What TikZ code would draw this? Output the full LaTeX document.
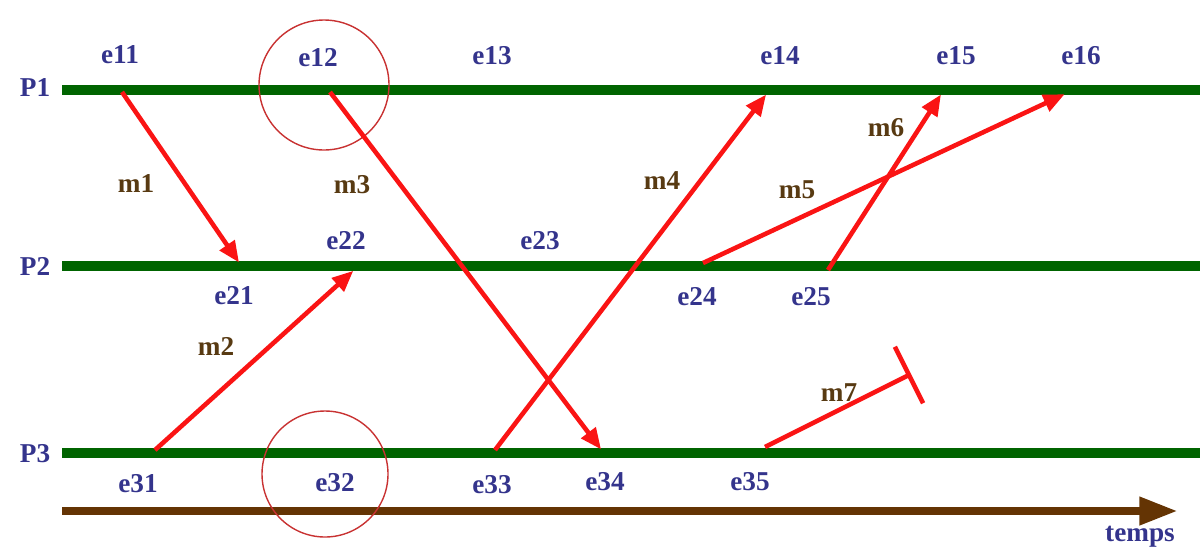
\documentclass[tikz,border=0pt]{standalone}
\usepackage{fontspec}
\setmainfont{Liberation Serif}
\usetikzlibrary{
    arrows.meta,
    positioning,
    calc
}
\definecolor{ProcGreen}{RGB}{0,100,0}
\definecolor{LabelBlue}{RGB}{52,52,140}
\definecolor{MsgBrown}{RGB}{88,58,18}
\definecolor{TimeBrown}{RGB}{100,52,4}
\definecolor{MsgRed}{RGB}{250,20,20}
\definecolor{CutRed}{RGB}{200,50,50}

\begin{document}
\begin{tikzpicture}[
    x=0.02cm,
    y=-0.02cm,
    >={Triangle[length=12pt,width=10pt]},
    process/.style={line width=6.2pt, ProcGreen},
    message/.style={->, line width=2.6pt, MsgRed, shorten >=-1pt},
    event/.style={text=LabelBlue, font=\fontsize{15.5}{17}\selectfont\bfseries, inner sep=1pt},
    msglabel/.style={text=MsgBrown, font=\fontsize{15.5}{17}\selectfont\bfseries, inner sep=1pt},
    cut/.style={draw=CutRed, line width=0.8pt}
]
\useasboundingbox (0,0) rectangle (1200,549);

% processes
\node[event] (p1) at (35,88) {P1};
\node[event] (p2) at (35,266) {P2};
\node[event] (p3) at (35,454) {P3};
\coordinate (p1start) at (62,90);
\coordinate (p1end) at (1200,90);
\coordinate (p2start) at (62,266);
\coordinate (p2end) at (1200,266);
\coordinate (p3start) at (62,453);
\coordinate (p3end) at (1200,453);
\draw[process] (p1start) -- (p1end);
\draw[process] (p2start) -- (p2end);
\draw[process] (p3start) -- (p3end);

% time axis
\coordinate (tstart) at (62,511);
\coordinate (tend) at (1178,511);
\draw[-{Triangle[length=22pt,width=15pt]}, line width=5pt, TimeBrown] (tstart) -- (tend);
\node[event] (temps) at (1140,537) {temps};

% events on P1
\coordinate (e11) at (122,92);
\coordinate (e12) at (330,92);
\coordinate (e14) at (765,96);
\coordinate (e15) at (940,96);
\coordinate (e16) at (1063,95);
\node[event] (l11) at (120,55) {e11};
\node[event] (l12) at (318,58) {e12};
\node[event] (l13) at (492,56) {e13};
\node[event] (l14) at (780,56) {e14};
\node[event] (l15) at (956,56) {e15};
\node[event] (l16) at (1081,56) {e16};

% events on P2
\coordinate (e21) at (238,261);
\coordinate (e22) at (352,272);
\coordinate (e24) at (703,263);
\coordinate (e25) at (828,270);
\node[event] (l21) at (234,296) {e21};
\node[event] (l22) at (346,241) {e22};
\node[event] (l23) at (540,241) {e23};
\node[event] (l24) at (697,297) {e24};
\node[event] (l25) at (811,297) {e25};

% events on P3
\coordinate (e31) at (155,450);
\coordinate (e33) at (495,450);
\coordinate (e34) at (600,448);
\coordinate (e35) at (765,447);
\coordinate (lost) at (911,374);
\node[event] (l31) at (138,484) {e31};
\node[event] (l32) at (335,483) {e32};
\node[event] (l33) at (492,485) {e33};
\node[event] (l34) at (605,482) {e34};
\node[event] (l35) at (750,482) {e35};

% cut circles
\draw[cut] (324,85) circle (65);
\draw[cut] (325,474) circle (63);

% messages
\draw[message] (e11) -- (e21);
\draw[message] (e31) -- (e22);
\draw[message] (e12) -- (e34);
\draw[message] (e33) -- (e14);
\draw[message] (e24) -- (e16);
\draw[message] (e25) -- (e15);
\draw[-{Bar[width=36pt]}, line width=2.6pt, MsgRed] (e35) -- (lost);

\node[msglabel] (m1) at (136,184) {m1};
\node[msglabel] (m2) at (216,346) {m2};
\node[msglabel] (m3) at (352,185) {m3};
\node[msglabel] (m4) at (662,181) {m4};
\node[msglabel] (m5) at (797,190) {m5};
\node[msglabel] (m6) at (886,128) {m6};
\node[msglabel] (m7) at (839,393) {m7};

\end{tikzpicture}
\end{document}
